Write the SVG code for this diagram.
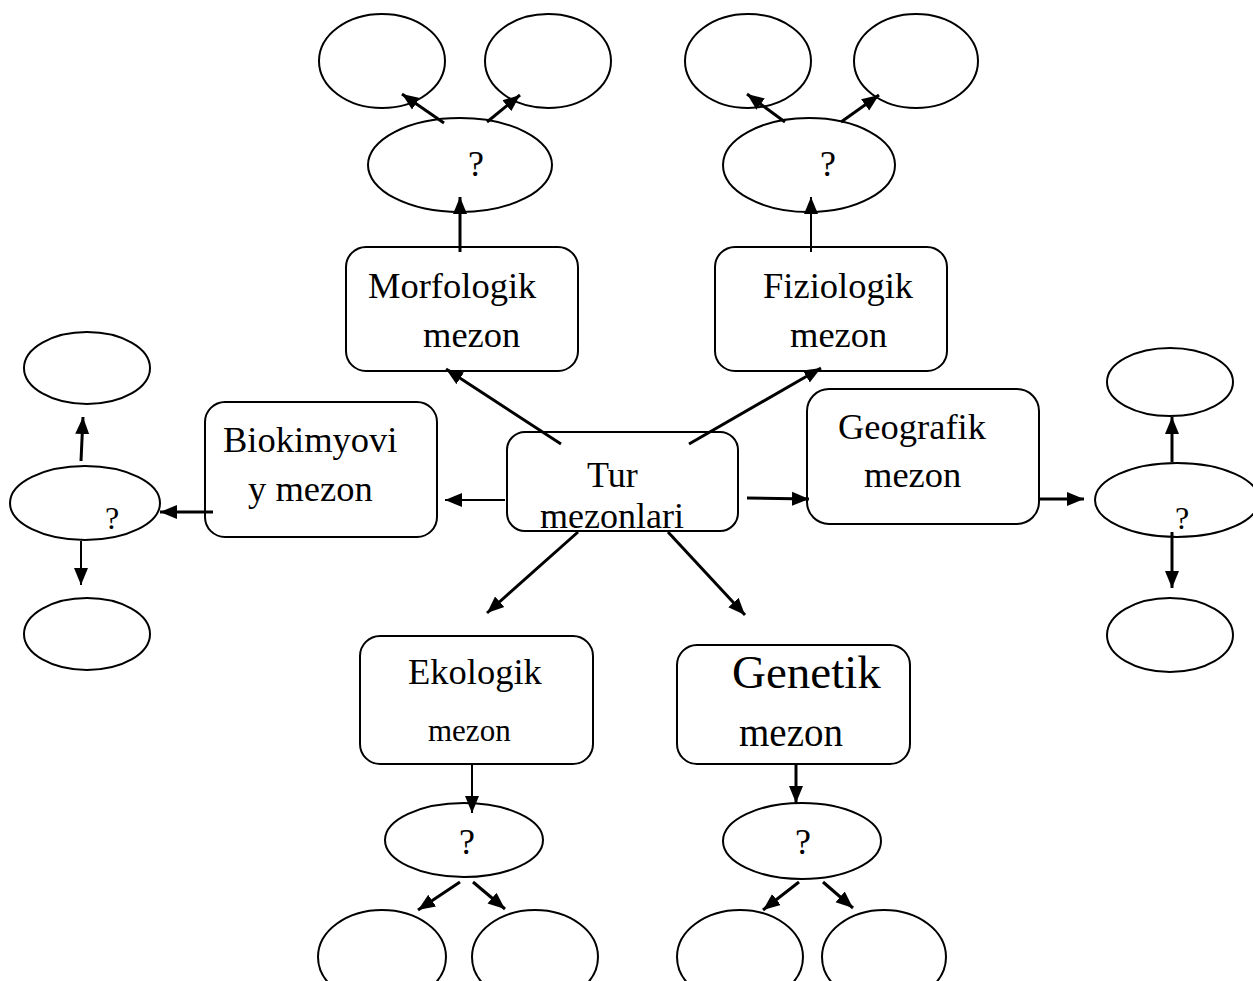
<svg xmlns="http://www.w3.org/2000/svg" width="1253" height="981" viewBox="0 0 1253 981">
<style>
.box{fill:#fff;stroke:#000;stroke-width:2}
.ell{fill:#fff;stroke:#000;stroke-width:2}
.t{font-family:"Liberation Serif","Times New Roman",serif;fill:#000}
.c{stroke:#000;stroke-width:3;fill:none}
.c2{stroke:#000;stroke-width:2;fill:none}
</style>
<defs>
<marker id="ah" markerUnits="userSpaceOnUse" markerWidth="18" markerHeight="16" refX="17" refY="8" orient="auto">
<path d="M0,1 L17,8 L0,15 z" fill="#000"/>
</marker>
</defs>
<rect width="1253" height="981" fill="#fff"/>

<g id="tur">
<rect class="box" x="507" y="432" width="231" height="99" rx="18"/>
<text class="t" x="587" y="487" font-size="36">Tur</text>
<text class="t" x="540" y="528" font-size="36">mezonlari</text>
</g>

<g id="morfologik">
<rect class="box" x="346" y="247" width="232" height="124" rx="20"/>
<text class="t" x="368" y="298" font-size="36.5">Morfologik</text>
<text class="t" x="423" y="347" font-size="36.5">mezon</text>
</g>
<g id="morf-q"><ellipse class="ell" cx="460" cy="165" rx="92" ry="47"/><text class="t" x="468" y="176" font-size="36">?</text></g>
<g id="morf-a"><ellipse class="ell" cx="382" cy="61" rx="63" ry="47"/></g>
<g id="morf-b"><ellipse class="ell" cx="548" cy="61" rx="63" ry="47"/></g>

<g id="fiziologik">
<rect class="box" x="715" y="247" width="232" height="124" rx="20"/>
<text class="t" x="763" y="298" font-size="36.5">Fiziologik</text>
<text class="t" x="790" y="347" font-size="36.5">mezon</text>
</g>
<g id="fiz-q"><ellipse class="ell" cx="809" cy="165" rx="86" ry="47"/><text class="t" x="820" y="176" font-size="36">?</text></g>
<g id="fiz-a"><ellipse class="ell" cx="748" cy="61" rx="63" ry="47"/></g>
<g id="fiz-b"><ellipse class="ell" cx="916" cy="61" rx="62" ry="47"/></g>

<g id="biokimyoviy">
<rect class="box" x="205" y="402" width="232" height="135" rx="20"/>
<text class="t" x="223" y="452" font-size="36.5">Biokimyovi</text>
<text class="t" x="248" y="501" font-size="36.5">y mezon</text>
</g>
<g id="bio-q"><ellipse class="ell" cx="85" cy="503" rx="75" ry="37"/><text class="t" x="105" y="529" font-size="32">?</text></g>
<g id="bio-a"><ellipse class="ell" cx="87" cy="368" rx="63" ry="36"/></g>
<g id="bio-b"><ellipse class="ell" cx="87" cy="634" rx="63" ry="36"/></g>

<g id="geografik">
<rect class="box" x="807" y="389" width="232" height="135" rx="22"/>
<text class="t" x="838" y="439" font-size="36.5">Geografik</text>
<text class="t" x="864" y="487" font-size="36.5">mezon</text>
</g>
<g id="geo-q"><ellipse class="ell" cx="1177" cy="500" rx="82" ry="37"/><text class="t" x="1175" y="529" font-size="32">?</text></g>
<g id="geo-a"><ellipse class="ell" cx="1170" cy="382" rx="63" ry="34"/></g>
<g id="geo-b"><ellipse class="ell" cx="1170" cy="635" rx="63" ry="37"/></g>

<g id="ekologik">
<rect class="box" x="360" y="636" width="233" height="128" rx="20"/>
<text class="t" x="408" y="684" font-size="36.5">Ekologik</text>
<text class="t" x="428" y="741" font-size="31">mezon</text>
</g>
<g id="eko-q"><ellipse class="ell" cx="464" cy="840" rx="79" ry="37"/><text class="t" x="459" y="854" font-size="36">?</text></g>
<g id="eko-a"><ellipse class="ell" cx="382" cy="957" rx="64" ry="47"/></g>
<g id="eko-b"><ellipse class="ell" cx="535" cy="957" rx="63" ry="47"/></g>

<g id="genetik">
<rect class="box" x="677" y="645" width="233" height="119" rx="20"/>
<text class="t" x="732" y="688" font-size="47">Genetik</text>
<text class="t" x="739" y="746" font-size="39">mezon</text>
</g>
<g id="gen-q"><ellipse class="ell" cx="802" cy="841" rx="79" ry="38"/><text class="t" x="795" y="854" font-size="36">?</text></g>
<g id="gen-a"><ellipse class="ell" cx="740" cy="957" rx="63" ry="47"/></g>
<g id="gen-b"><ellipse class="ell" cx="884" cy="957" rx="62" ry="47"/></g>

<g id="connectors">
<line class="c" x1="561" y1="444" x2="446" y2="369" marker-end="url(#ah)"/>
<line class="c" x1="689" y1="444" x2="821" y2="368" marker-end="url(#ah)"/>
<line class="c2" x1="505" y1="500" x2="445" y2="500" marker-end="url(#ah)"/>
<line class="c" x1="747" y1="498" x2="809" y2="499" marker-end="url(#ah)"/>
<line class="c" x1="578" y1="532" x2="487" y2="613" marker-end="url(#ah)"/>
<line class="c" x1="668" y1="532" x2="745" y2="615" marker-end="url(#ah)"/>

<line class="c" x1="460" y1="252" x2="460" y2="197" marker-end="url(#ah)"/>
<line class="c" x1="444" y1="123" x2="402" y2="94" marker-end="url(#ah)"/>
<line class="c" x1="487" y1="122" x2="520" y2="95" marker-end="url(#ah)"/>

<line class="c2" x1="811" y1="252" x2="811" y2="197" marker-end="url(#ah)"/>
<line class="c" x1="785" y1="122" x2="747" y2="94" marker-end="url(#ah)"/>
<line class="c" x1="841" y1="122" x2="879" y2="95" marker-end="url(#ah)"/>

<line class="c" x1="213" y1="512" x2="160" y2="512" marker-end="url(#ah)"/>
<line class="c" x1="81" y1="461" x2="83" y2="417" marker-end="url(#ah)"/>
<line class="c2" x1="81" y1="541" x2="81" y2="585" marker-end="url(#ah)"/>

<line class="c" x1="1039" y1="499" x2="1084" y2="499" marker-end="url(#ah)"/>
<line class="c" x1="1172" y1="462" x2="1172" y2="417" marker-end="url(#ah)"/>
<line class="c" x1="1172" y1="532" x2="1172" y2="588" marker-end="url(#ah)"/>

<line class="c2" x1="472" y1="764" x2="472" y2="813" marker-end="url(#ah)"/>
<line class="c" x1="460" y1="882" x2="418" y2="910" marker-end="url(#ah)"/>
<line class="c" x1="473" y1="882" x2="505" y2="909" marker-end="url(#ah)"/>

<line class="c" x1="796" y1="764" x2="796" y2="803" marker-end="url(#ah)"/>
<line class="c" x1="799" y1="882" x2="763" y2="910" marker-end="url(#ah)"/>
<line class="c" x1="823" y1="882" x2="853" y2="908" marker-end="url(#ah)"/>
</g>
</svg>
